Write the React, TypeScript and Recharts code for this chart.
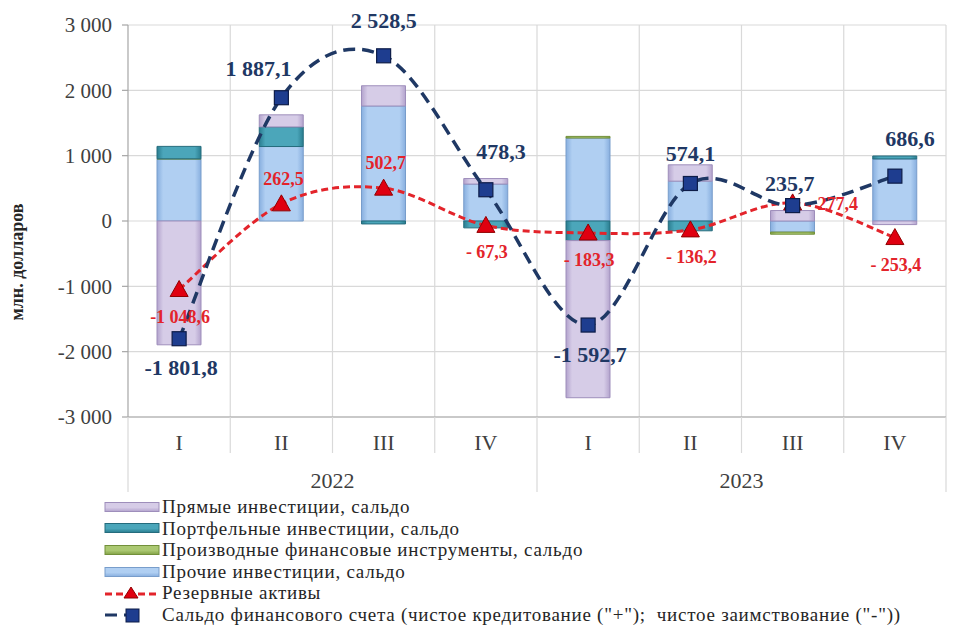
import React from 'react'
import { ComposedChart, Bar, Line, XAxis, YAxis, CartesianGrid, LabelList } from 'recharts'

// квартальные данные, млн. долларов
const quarters = ['I', 'II', 'III', 'IV', 'I', 'II', 'III', 'IV']
const years = ['2022', '2023']
const directInv = [-1895, 185, 310, 85, -2405, 250, 160, -55]
const portfolioInv = [190, 300, -45, -105, -300, -150, 0, 45]
const derivativesInv = [2, 0, 0, 0, 25, 0, -32, 0]
const otherInv = [950, 1140, 1760, 565, 1270, 610, -170, 950]
const reserves = [-1048.6, 262.5, 502.7, -67.3, -183.3, -136.2, 277.4, -253.4]
const balance = [-1801.8, 1887.1, 2528.5, 478.3, -1592.7, 574.1, 235.7, 686.6]
const yTicks = [-3000, -2000, -1000, 0, 1000, 2000, 3000]

// где ставить подписи точек
const balanceLabelPos = ['below', 'aboveLeft', 'aboveHigh', 'aboveRight', 'below', 'above', 'aboveClose', 'aboveRight']
const reserveLabelPos = ['below', 'above', 'above', 'below', 'below', 'below', 'right', 'below']

const data = quarters.map((q, i) => ({
  q,
  direct: directInv[i],
  portfolio: portfolioInv[i],
  derivatives: derivativesInv[i],
  other: otherInv[i],
  reserves: reserves[i],
  balance: balance[i],
}))

const W = 975
const H = 628
const PLOT_LEFT = 128
const PLOT_RIGHT = 29
const PLOT_TOP = 25
const PLOT_BOTTOM = 417
const X_AXIS_H = 60
const BAND = (W - PLOT_LEFT - PLOT_RIGHT) / quarters.length

const SERIF = '"Liberation Serif", "Times New Roman", serif'
const GRID = '#D9D9D9'
const AXIS = '#A6A6A6'
const TEXT = '#404040'
const NAVY = '#1F3864'
const RED = '#E3242B'

const fmtNum = (v: number) => {
  const [int, dec] = Math.abs(v).toFixed(1).split('.')
  return int.replace(/\B(?=(\d{3})+(?!\d))/g, ' ') + ',' + dec
}
const fmtBalance = (v: number) => (v < 0 ? '-' : '') + fmtNum(v)
const fmtReserve = (v: number) => (v < 0 ? (Math.abs(v) >= 1000 ? '-' : '- ') : '') + fmtNum(v)
const fmtTick = (v: number) => (v < 0 ? '-' : '') + Math.abs(v).toString().replace(/\B(?=(\d{3})+(?!\d))/g, ' ')

// сглаживание как в Excel (Катмулл-Ром)
function excelSmooth(context: any) {
  let pts: number[][] = []
  return {
    areaStart() {},
    areaEnd() {},
    lineStart() {
      pts = []
    },
    point(x: number, y: number) {
      pts.push([+x, +y])
    },
    lineEnd() {
      if (!pts.length) return
      context.moveTo(pts[0][0], pts[0][1])
      for (let i = 0; i < pts.length - 1; i++) {
        const p0 = pts[i - 1] || pts[i]
        const p1 = pts[i]
        const p2 = pts[i + 1]
        const p3 = pts[i + 2] || p2
        context.bezierCurveTo(
          p1[0] + (p2[0] - p0[0]) / 6,
          p1[1] + (p2[1] - p0[1]) / 6,
          p2[0] - (p3[0] - p1[0]) / 6,
          p2[1] - (p3[1] - p1[1]) / 6,
          p2[0],
          p2[1],
        )
      }
    },
  }
}

const barColors = {
  direct: { edge: '#B3A3CD', mid: '#D6CCE7', stroke: '#9E8EBB' },
  portfolio: { edge: '#2A7D90', mid: '#4BA6BA', stroke: '#256C7D' },
  derivatives: { edge: '#82A246', mid: '#ABC872', stroke: '#72903A' },
  other: { edge: '#88AFDF', mid: '#B0CFF2', stroke: '#789DCB' },
}

const Gradients = () => (
  <defs>
    {Object.entries(barColors).map(([k, c]) => (
      <linearGradient key={k} id={'g-' + k} x1="0" y1="0" x2="1" y2="0">
        <stop offset="0%" stopColor={c.edge} />
        <stop offset="14%" stopColor={c.mid} />
        <stop offset="86%" stopColor={c.mid} />
        <stop offset="100%" stopColor={c.edge} />
      </linearGradient>
    ))}
  </defs>
)

function QuarterTick(props: any) {
  const { x, payload, index } = props
  const left = x - BAND / 2
  const yearStart = index % 4 === 0
  return (
    <g>
      <line x1={left} x2={left} y1={PLOT_BOTTOM} y2={PLOT_BOTTOM + (yearStart ? 75 : 36)} stroke={GRID} strokeWidth={1.2} />
      {index === quarters.length - 1 && (
        <line x1={x + BAND / 2} x2={x + BAND / 2} y1={PLOT_BOTTOM} y2={PLOT_BOTTOM + 75} stroke={GRID} strokeWidth={1.2} />
      )}
      <text x={x} y={PLOT_BOTTOM + 25} textAnchor="middle" dominantBaseline="central" fontFamily={SERIF} fontSize={22} fill={TEXT}>
        {payload.value}
      </text>
      {yearStart && (
        <text x={left + 2 * BAND} y={PLOT_BOTTOM + 63} textAnchor="middle" dominantBaseline="central" fontFamily={SERIF} fontSize={22} fill={TEXT}>
          {years[index / 4]}
        </text>
      )}
    </g>
  )
}

const YTitle = () => (
  <text
    x={17}
    y={262}
    transform="rotate(-90 17 262)"
    textAnchor="middle"
    dominantBaseline="central"
    fontFamily={SERIF}
    fontSize={18}
    fontWeight="bold"
    fill="#262626"
  >
    млн. долларов
  </text>
)

const SquareDot = (props: any) => {
  const { cx, cy, index } = props
  if (cx == null || cy == null) return null
  return (
    <rect key={'sq' + index} x={cx - 7} y={cy - 7} width={14} height={14} fill="#1E3D8F" stroke="#0D1C48" strokeWidth={1.2} />
  )
}

const TriangleDot = (props: any) => {
  const { cx, cy, index } = props
  if (cx == null || cy == null) return null
  return (
    <path
      key={'tr' + index}
      d={`M${cx},${cy - 9} L${cx + 9},${cy + 7} L${cx - 9},${cy + 7} Z`}
      fill="#E00010"
      stroke="#900000"
      strokeWidth={1}
    />
  )
}

const balanceOffsets: Record<string, [number, number]> = {
  below: [2, 29],
  above: [0, -30],
  aboveHigh: [0, -35],
  aboveClose: [-3, -22],
  aboveLeft: [-23, -29],
  aboveRight: [15, -38],
}
const reserveOffsets: Record<string, [number, number]> = {
  below: [1, 27],
  above: [2, -25],
  right: [45, 1],
}

const BalanceLabel = (props: any) => {
  const { x, y, value, index } = props
  const [dx, dy] = balanceOffsets[balanceLabelPos[index]]
  return (
    <text x={x + dx} y={y + dy} textAnchor="middle" dominantBaseline="central" fontFamily={SERIF} fontWeight="bold" fontSize={22} fill={NAVY}>
      {fmtBalance(value)}
    </text>
  )
}

const ReserveLabel = (props: any) => {
  const { x, y, value, index } = props
  const [dx, dy] = reserveOffsets[reserveLabelPos[index]]
  return (
    <text x={x + dx} y={y + dy} textAnchor="middle" dominantBaseline="central" fontFamily={SERIF} fontWeight="bold" fontSize={18} fill={RED}>
      {fmtReserve(value)}
    </text>
  )
}

const legendItems = [
  { kind: 'bar', key: 'direct', label: 'Прямые инвестиции, сальдо' },
  { kind: 'bar', key: 'portfolio', label: 'Портфельные инвестиции, сальдо' },
  { kind: 'bar', key: 'derivatives', label: 'Производные финансовые инструменты, сальдо' },
  { kind: 'bar', key: 'other', label: 'Прочие инвестиции, сальдо' },
  { kind: 'reserve', key: 'reserves', label: 'Резервные активы' },
  { kind: 'balance', key: 'balance', label: 'Сальдо финансового счета (чистое кредитование ("+");  чистое заимствование ("-"))' },
]

function LegendIcon({ kind, k }: { kind: string; k: string }) {
  if (kind === 'bar') {
    const c = (barColors as any)[k]
    return (
      <svg width={56} height={14} style={{ display: 'block' }}>
        <defs>
          <linearGradient id={'lg-' + k} x1="0" y1="0" x2="0" y2="1">
            <stop offset="0%" stopColor={c.mid} />
            <stop offset="55%" stopColor={c.mid} />
            <stop offset="100%" stopColor={c.edge} />
          </linearGradient>
        </defs>
        <rect x={1} y={2.5} width={54} height={9} fill={'url(#lg-' + k + ')'} stroke={c.stroke} strokeWidth={1} />
      </svg>
    )
  }
  if (kind === 'reserve') {
    return (
      <svg width={56} height={16} style={{ display: 'block' }}>
        <line x1={1} x2={55} y1={9} y2={9} stroke={RED} strokeWidth={3} strokeDasharray="7 4" />
        <path d="M27,2 L34,13 L20,13 Z" fill="#E00010" stroke="#900000" strokeWidth={1} />
      </svg>
    )
  }
  return (
    <svg width={56} height={16} style={{ display: 'block' }}>
      <line x1={1} x2={30} y1={8} y2={8} stroke={NAVY} strokeWidth={3} strokeDasharray="12 7" />
      <rect x={22} y={2} width={13} height={13} fill="#1E3D8F" stroke="#0D1C48" strokeWidth={1} />
    </svg>
  )
}

export default function App() {
  return (
    <div style={{ position: 'absolute', left: 0, top: 0, width: W, height: H, background: '#fff' }}>
      <ComposedChart
        width={W}
        height={H}
        data={data}
        stackOffset="sign"
        margin={{ top: PLOT_TOP, right: PLOT_RIGHT, bottom: H - PLOT_BOTTOM - X_AXIS_H, left: 0 }}
      >
        <Gradients />
        <CartesianGrid
          stroke={GRID}
          strokeWidth={1.2}
          verticalCoordinatesGenerator={({ offset }: any) =>
            quarters.map((_, i) => offset.left + (i + 1) * (offset.width / quarters.length))
          }
        />
        <XAxis
          dataKey="q"
          height={X_AXIS_H}
          interval={0}
          tickLine={false}
          axisLine={{ stroke: AXIS, strokeWidth: 1.2 }}
          tick={<QuarterTick />}
        />
        <YAxis
          width={PLOT_LEFT}
          domain={[-3000, 3000]}
          ticks={yTicks}
          tickFormatter={fmtTick}
          tickSize={6}
          tickMargin={10}
          axisLine={{ stroke: AXIS, strokeWidth: 1.2 }}
          tickLine={{ stroke: AXIS, strokeWidth: 1.2 }}
          tick={{ fontFamily: SERIF, fontSize: 21, fill: TEXT }}
          label={<YTitle />}
        />
        <Bar dataKey="other" stackId="a" barSize={44} fill="url(#g-other)" stroke={barColors.other.stroke} isAnimationActive={false} />
        <Bar dataKey="derivatives" stackId="a" barSize={44} fill="url(#g-derivatives)" stroke={barColors.derivatives.stroke} isAnimationActive={false} />
        <Bar dataKey="portfolio" stackId="a" barSize={44} fill="url(#g-portfolio)" stroke={barColors.portfolio.stroke} isAnimationActive={false} />
        <Bar dataKey="direct" stackId="a" barSize={44} fill="url(#g-direct)" stroke={barColors.direct.stroke} isAnimationActive={false} />
        <Line
          dataKey="reserves"
          type={excelSmooth as any}
          stroke={RED}
          strokeWidth={3}
          strokeDasharray="7 4"
          dot={TriangleDot}
          activeDot={false}
          isAnimationActive={false}
        >
          <LabelList dataKey="reserves" content={ReserveLabel} />
        </Line>
        <Line
          dataKey="balance"
          type={excelSmooth as any}
          stroke={NAVY}
          strokeWidth={3.5}
          strokeDasharray="12 7"
          dot={SquareDot}
          activeDot={false}
          isAnimationActive={false}
        >
          <LabelList dataKey="balance" content={BalanceLabel} />
        </Line>
      </ComposedChart>
      <div style={{ position: 'absolute', left: 104, top: 496, fontFamily: SERIF, fontSize: 19, letterSpacing: 0.75, color: '#262626', lineHeight: '21.6px' }}>
        {legendItems.map((it) => (
          <div key={it.key} style={{ display: 'flex', alignItems: 'center', height: 21.6, whiteSpace: 'pre' }}>
            <LegendIcon kind={it.kind} k={it.key} />
            <span style={{ marginLeft: 2 }}>{it.label}</span>
          </div>
        ))}
      </div>
    </div>
  )
}
